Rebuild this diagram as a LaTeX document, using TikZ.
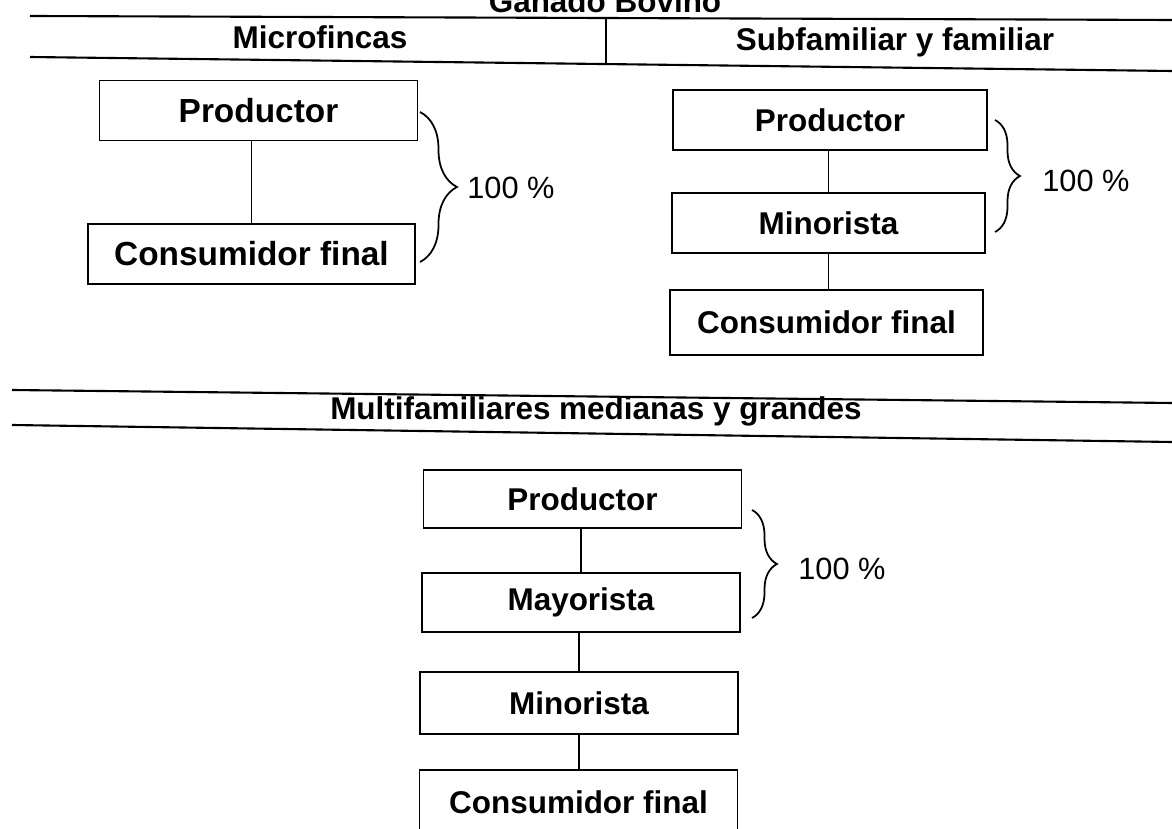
\documentclass[tikz,border=0pt]{standalone}
\usepackage{fontspec}
\setmainfont{Liberation Sans}
\usepackage{tikz}
\usetikzlibrary{positioning,calc,decorations.pathreplacing}

\begin{document}
\begin{tikzpicture}[
    actor/.style={rectangle, draw=black, line width=1.1pt, minimum width=6.36cm, minimum height=1.2cm, inner sep=0pt, text centered, font=\fontsize{17.9}{21}\selectfont\bfseries},
    big/.style={font=\fontsize{19}{22}\selectfont\bfseries},
    header/.style={anchor=base, inner sep=0pt, font=\fontsize{17.9}{21}\selectfont\bfseries},
    rule/.style={line width=1.2pt},
    link/.style={line width=1pt},
    share/.style={anchor=west, inner sep=0pt, font=\fontsize{17.5}{21}\selectfont},
    bracket/.style={decorate, line width=1pt, decoration={brace, amplitude=#1}}
]
    \clip (0,0) rectangle (23.44,-16.58);
    \fill[white] (0,0) rectangle (23.44,-16.58);

    % Title and column heads
    \node[header] (title) at (12.1,-0.25) {Ganado Bovino};
    \draw[rule] (0.6,-0.32) -- (23.44,-0.40);
    \draw[rule] (12.12,-0.36) -- (12.12,-1.26);
    \node[header] (micro) at (6.4,-0.98) {Microfincas};
    \node[header] (subfam) at (17.9,-1.02) {Subfamiliar y familiar};
    \draw[rule] (0.6,-1.14) -- (23.44,-1.42);

    % Microfincas
    \node[actor, big] (prod1) at (5.17,-2.21) {Productor};
    \node[actor, big, minimum width=6.54cm, minimum height=1.2cm] (cons1) at (5.03,-5.08) {Consumidor final};
    \draw[link] (cons1.north) -- (cons1.north |- prod1.south);
    \coordinate (b1top) at (8.4,-2.24);
    \coordinate (b1bot) at (8.4,-5.24);
    \draw[bracket=0.74cm] (b1top) -- (b1bot);
    \node[share] (pct1) at (9.34,-3.76) {100 \%};

    % Subfamiliar y familiar
    \node[actor, minimum width=6.28cm] (prod2) at (16.6,-2.4) {Productor};
    \node[actor, minimum width=6.26cm] (mino2) at (16.57,-4.46) {Minorista};
    \node[actor, minimum width=6.26cm, minimum height=1.3cm] (cons2) at (16.53,-6.45) {Consumidor final};
    \draw[link] (mino2.north) -- (mino2.north |- prod2.south);
    \draw[link] (mino2.south) -- (mino2.south |- cons2.north);
    \coordinate (b2top) at (19.9,-2.4);
    \coordinate (b2bot) at (19.9,-4.64);
    \draw[bracket=0.5cm] (b2top) -- (b2bot);
    \node[share] (pct2) at (20.84,-3.62) {100 \%};

    % Multifamiliares medianas y grandes
    \draw[rule] (0.24,-7.8) -- (23.44,-8.06);
    \node[header] (multi) at (11.92,-8.4) {Multifamiliares medianas y grandes};
    \draw[rule] (0.24,-8.5) -- (23.44,-8.84);

    \node[actor, minimum height=1.16cm] (prod3) at (11.65,-9.98) {Productor};
    \node[actor, minimum height=1.18cm] (mayo3) at (11.62,-12.05) {Mayorista};
    \node[actor, minimum height=1.24cm] (mino3) at (11.58,-14.06) {Minorista};
    \node[actor, minimum height=1.28cm] (cons3) at (11.57,-16.04) {Consumidor final};
    \draw[link] (mayo3.north) -- (mayo3.north |- prod3.south);
    \draw[link] (mino3.north) -- (mino3.north |- mayo3.south);
    \draw[link] (mino3.south) -- (mino3.south |- cons3.north);
    \coordinate (b3top) at (15.04,-10.2);
    \coordinate (b3bot) at (15.04,-12.36);
    \draw[bracket=0.5cm] (b3top) -- (b3bot);
    \node[share] (pct3) at (15.96,-11.38) {100 \%};
\end{tikzpicture}
\end{document}
